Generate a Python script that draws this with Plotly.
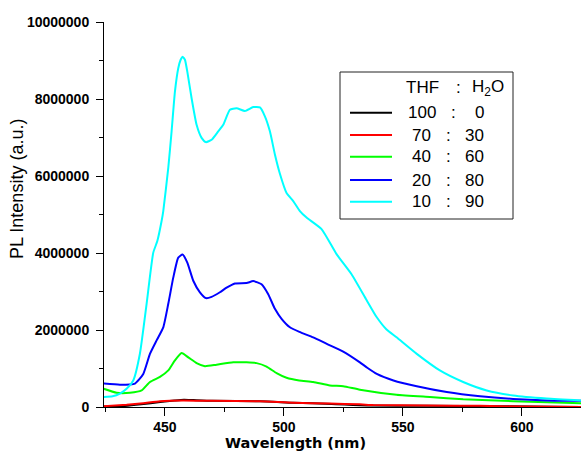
import plotly.graph_objects as go

# Emission spectra of the dye in THF / water mixtures (excitation fixed)
wl_100_0 = [424.0, 432.0, 440.0, 448.0, 454.0, 458.0, 462.0, 470.0, 490.0, 504.0,
            520.0, 535.0, 560.0, 590.0, 624.8]
pl_100_0 = [10000, 20000, 70000, 130000, 170000, 190000, 180000, 160000, 150000, 110000,
            80000, 40000, 30000, 20000, 0]

wl_70_30 = [424.0, 433.9, 440.9, 447.9, 457.7, 468.9, 489.9, 503.9, 519.3, 531.9,
            537.5, 560.0, 582.4, 600.0, 624.8]
pl_70_30 = [20000, 60000, 100000, 150000, 170000, 160000, 150000, 110000, 90000, 70000,
            50000, 40000, 30000, 10000, 0]

wl_40_60 = [424.0, 429.7, 435.3, 440.2, 443.7, 447.9, 451.4, 454.2, 457.0, 459.8,
            463.3, 466.8, 471.7, 478.7, 484.3, 488.5, 492.7, 496.9, 501.1, 506.4,
            512.3, 519.3, 524.9, 531.9, 547.3, 561.3, 575.3, 596.3, 624.8]
pl_40_60 = [480000, 370000, 370000, 430000, 650000, 780000, 950000, 1210000, 1400000, 1290000,
            1140000, 1060000, 1100000, 1160000, 1160000, 1140000, 1050000, 880000, 760000, 690000,
            650000, 560000, 540000, 450000, 320000, 260000, 200000, 150000, 100000]

wl_20_80 = [424.0, 431.1, 437.4, 440.9, 443.7, 446.5, 449.3, 451.4, 453.5, 455.6,
            457.4, 459.4, 461.9, 464.7, 467.2, 469.6, 473.1, 475.9, 479.4, 484.3,
            487.1, 490.6, 493.4, 496.2, 499.0, 502.5, 506.5, 512.3, 518.0, 524.9,
            531.9, 535.0, 539.0, 546.0, 555.8, 568.4, 582.4, 596.3, 610.4, 624.8]
pl_20_80 = [610000, 580000, 610000, 860000, 1380000, 1730000, 2070000, 2680000, 3360000, 3880000,
            3960000, 3750000, 3280000, 2980000, 2830000, 2860000, 2980000, 3100000, 3210000, 3220000,
            3270000, 3190000, 2930000, 2550000, 2290000, 2070000, 1950000, 1810000, 1640000, 1440000,
            1160000, 1020000, 860000, 690000, 540000, 390000, 280000, 210000, 170000, 160000]

wl_10_90 = [424.0, 428.0, 431.1, 434.0, 436.7, 439.5, 442.3, 445.1, 446.8, 448.6,
            449.3, 451.4, 452.8, 454.2, 455.6, 456.6, 457.4, 458.4, 459.4, 461.2,
            463.3, 465.4, 467.2, 469.6, 472.4, 474.5, 477.3, 480.1, 483.6, 487.1,
            489.9, 492.0, 494.1, 496.2, 498.3, 501.1, 503.9, 506.7, 509.5, 515.8,
            522.1, 528.4, 534.7, 539.0, 543.0, 547.3, 555.8, 565.5, 575.3, 585.2,
            596.3, 610.4, 624.8]
pl_10_90 = [260000, 280000, 350000, 480000, 690000, 1390000, 2680000, 4010000, 4310000, 4830000,
            5090000, 6210000, 7160000, 8190000, 8800000, 9020000, 9100000, 9020000, 8710000, 8020000,
            7330000, 6990000, 6880000, 6940000, 7160000, 7330000, 7720000, 7760000, 7690000, 7790000,
            7780000, 7550000, 7160000, 6560000, 6060000, 5560000, 5350000, 5090000, 4920000, 4620000,
            3970000, 3450000, 2780000, 2330000, 2020000, 1810000, 1380000, 950000, 650000, 430000,
            300000, 220000, 170000]

thf_parts = ["100", "70", "40", "20", "10"]
water_parts = ["0", "30", "60", "80", "90"]
colors = ["#000000", "#ff0000", "#00ff00", "#0000ff", "#00ffff"]
series = [(wl_100_0, pl_100_0), (wl_70_30, pl_70_30), (wl_40_60, pl_40_60),
          (wl_20_80, pl_20_80), (wl_10_90, pl_10_90)]

W, H = 581, 452
L, R, T, B = 104, 0, 22, 45
plot_w, plot_h = W - L - R, H - T - B


def fx(px):
    """Pixel x (from left of page) to paper x."""
    return (px - L) / plot_w


def fy(py):
    """Pixel y (from top of page) to paper y."""
    return (H - B - py) / plot_h


FONT = "Liberation Sans, Arial, sans-serif"

fig = go.Figure()
for (wl, pl), c, a, b in zip(series, colors, thf_parts, water_parts):
    fig.add_trace(go.Scatter(
        x=wl, y=pl, mode="lines", name=f"{a} : {b}",
        line=dict(color=c, width=2, shape="spline", smoothing=0.5),
        showlegend=False,
    ))

# Boxed key: THF : H2O ratio per colour
shapes = [dict(type="rect", xref="paper", yref="paper",
               x0=fx(340), x1=fx(513), y0=fy(72), y1=fy(219),
               line=dict(color="#222222", width=1), fillcolor="white", layer="above")]
annotations = []
row_y = [112.7, 135, 156.7, 180, 201.7]
legend_font = dict(family=FONT, size=17, color="black")
for yy, c, a, b in zip(row_y, colors, thf_parts, water_parts):
    shapes.append(dict(type="line", xref="paper", yref="paper",
                       x0=fx(350), x1=fx(392), y0=fy(yy), y1=fy(yy),
                       line=dict(color=c, width=2), layer="above"))
    annotations.append(dict(x=fx(421.5), y=fy(yy), xref="paper", yref="paper",
                            text=a, showarrow=False, xanchor="center", yanchor="middle",
                            font=legend_font))
    annotations.append(dict(x=fx(453 if a == "100" else 448.5), y=fy(yy), xref="paper",
                            yref="paper", text=":", showarrow=False, xanchor="center",
                            yanchor="middle", font=legend_font))
    annotations.append(dict(x=fx(486), y=fy(yy), xref="paper", yref="paper",
                            text=b, showarrow=False, xanchor="right", yanchor="middle",
                            font=legend_font))
annotations += [
    dict(x=fx(422), y=fy(87.5), xref="paper", yref="paper", text="THF", showarrow=False,
         xanchor="center", yanchor="middle", font=legend_font),
    dict(x=fx(458), y=fy(87.5), xref="paper", yref="paper", text=":", showarrow=False,
         xanchor="center", yanchor="middle", font=legend_font),
    dict(x=fx(470), y=fy(87.5), xref="paper", yref="paper", text="H<sub>2</sub>O",
         showarrow=False, xanchor="left", yanchor="middle", font=legend_font),
    # axis titles
    dict(x=fx(295), y=fy(443), xref="paper", yref="paper", text="<b>Wavelength (nm)</b>",
         showarrow=False, xanchor="center", yanchor="middle",
         font=dict(family="DejaVu Sans, sans-serif", size=14.5, color="black")),
    dict(x=fx(17), y=fy(189), xref="paper", yref="paper", text="PL Intensity (a.u.)",
         showarrow=False, xanchor="center", yanchor="middle", textangle=-90,
         font=dict(family=FONT, size=18, color="black")),
]

tick_font = dict(family=FONT, size=14, color="black", weight="bold")
fig.update_layout(
    width=W, height=H,
    margin=dict(l=L, r=R, t=T, b=B, pad=0),
    paper_bgcolor="white", plot_bgcolor="white",
    shapes=shapes, annotations=annotations,
    xaxis=dict(range=[424.4, 624.8], dtick=50, tick0=0, showgrid=False, zeroline=False,
               showline=True, linecolor="black", linewidth=1, mirror=False,
               ticks="outside", ticklen=8, tickwidth=1, tickcolor="black",
               tickfont=tick_font, ticklabelstandoff=-1,
               minor=dict(dtick=25, tick0=0, ticks="outside", ticklen=4, tickwidth=1,
                          tickcolor="black", showgrid=False)),
    yaxis=dict(range=[0, 1e7], dtick=2e6, tick0=0, tickformat="d", showgrid=False,
               zeroline=False, showline=True, linecolor="black", linewidth=1, mirror=False,
               ticks="outside", ticklen=7, tickwidth=1, tickcolor="black",
               tickfont=tick_font, ticklabelstandoff=4,
               minor=dict(dtick=1e6, tick0=0, ticks="outside", ticklen=4, tickwidth=1,
                          tickcolor="black", showgrid=False)),
)

fig.write_html("out.html")
